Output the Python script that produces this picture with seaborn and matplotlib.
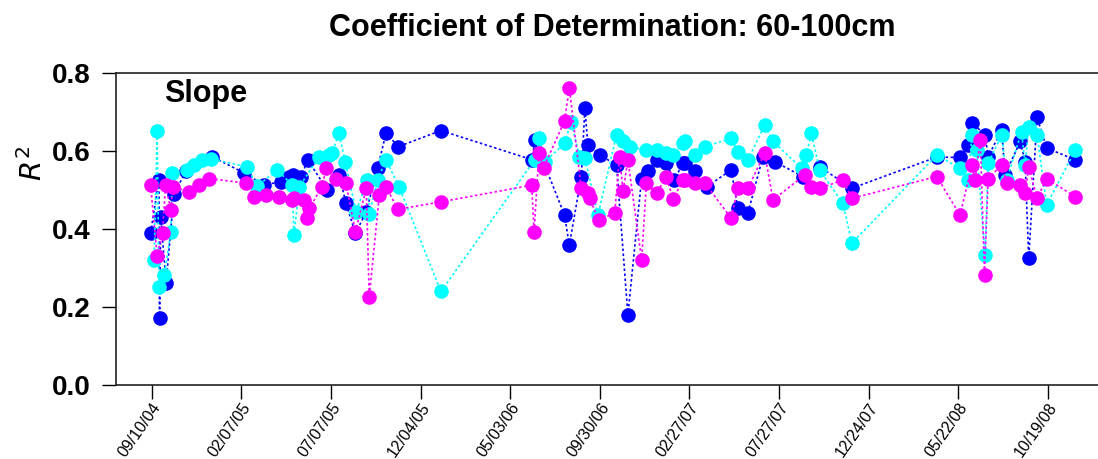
import numpy as np
import pandas as pd
import matplotlib
matplotlib.use("Agg")
import matplotlib.pyplot as plt
import matplotlib.dates as mdates
import seaborn as sns

# ---- data (days after 2004-09-10, R^2 values) ----
start_date = "2004-09-10"

blue_days = [-2, 12, 13, 15, 24, 37, 57, 101, 155, 188, 216, 230, 236, 250, 261, 294, 314, 325, 341, 359,
             378, 392, 413, 484, 637, 641, 691, 699, 719, 725, 730, 750, 778, 797, 820, 831, 845, 861, 875, 889,
             892, 909, 929, 970, 981, 998, 1023, 1043, 1090, 1118, 1172, 1314, 1353, 1367, 1373, 1395, 1400,
             1423, 1428, 1454, 1462, 1468, 1482, 1498, 1546]
blue_r2 = [0.39, 0.526, 0.172, 0.43, 0.262, 0.49, 0.548, 0.586, 0.544, 0.513, 0.522, 0.535, 0.539, 0.535, 0.578,
           0.50, 0.539, 0.466, 0.389, 0.445, 0.556, 0.646, 0.612, 0.653, 0.578, 0.629, 0.436, 0.359, 0.535, 0.71,
           0.616, 0.59, 0.565, 0.18, 0.53, 0.548, 0.578, 0.569, 0.526, 0.57, 0.569, 0.548, 0.509, 0.552, 0.454,
           0.441, 0.586, 0.573, 0.535, 0.56, 0.505, 0.585, 0.584, 0.616, 0.673, 0.642, 0.586, 0.655, 0.539,
           0.625, 0.573, 0.325, 0.687, 0.608, 0.578]

cyan_days = [4, 9, 12, 21, 32, 34, 59, 71, 84, 99, 160, 176, 210, 235, 238, 247, 280, 297, 302, 313, 324, 342,
             361, 364, 378, 392, 414, 484, 641, 649, 658, 691, 702, 716, 725, 747, 778, 789, 800, 828, 845, 861,
             873, 889, 892, 909, 926, 970, 981, 998, 1026, 1040, 1088, 1096, 1104, 1118, 1157, 1172, 1314, 1353,
             1367, 1373, 1381, 1395, 1400, 1423, 1431, 1456, 1462, 1468, 1482, 1498, 1546]
cyan_r2 = [0.321, 0.652, 0.252, 0.282, 0.393, 0.545, 0.552, 0.565, 0.578, 0.58, 0.56, 0.51, 0.552, 0.513, 0.385,
           0.509, 0.586, 0.59, 0.595, 0.646, 0.573, 0.445, 0.526, 0.44, 0.526, 0.578, 0.509, 0.24, 0.578, 0.633,
           0.573, 0.62, 0.676, 0.586, 0.583, 0.436, 0.642, 0.625, 0.612, 0.603, 0.603, 0.595, 0.59, 0.62, 0.625,
           0.59, 0.612, 0.633, 0.599, 0.578, 0.667, 0.625, 0.556, 0.59, 0.646, 0.552, 0.466, 0.364, 0.59, 0.556,
           0.526, 0.642, 0.603, 0.334, 0.569, 0.642, 0.526, 0.65, 0.565, 0.663, 0.642, 0.462, 0.603]

magenta_days = [-2, 9, 18, 23, 32, 35, 63, 79, 96, 158, 171, 191, 213, 235, 238, 255, 260, 264, 285, 292, 308,
                325, 341, 359, 364, 381, 392, 412, 484, 636, 640, 648, 656, 691, 699, 719, 730, 733, 748, 775, 783,
                789, 797, 820, 828, 845, 861, 873, 889, 892, 909, 926, 970, 981, 998, 1026, 1040, 1093, 1104,
                1118, 1157, 1172, 1314, 1353, 1373, 1378, 1387, 1394, 1400, 1423, 1431, 1454, 1462, 1468, 1482,
                1498, 1546]
magenta_r2 = [0.513, 0.33, 0.39, 0.513, 0.449, 0.509, 0.496, 0.513, 0.53, 0.518, 0.483, 0.488, 0.482, 0.475, 0.48,
              0.475, 0.429, 0.454, 0.509, 0.556, 0.53, 0.518, 0.393, 0.505, 0.227, 0.488, 0.509, 0.451, 0.47,
              0.513, 0.393, 0.595, 0.558, 0.678, 0.762, 0.505, 0.492, 0.479, 0.424, 0.441, 0.586, 0.498, 0.578,
              0.321, 0.518, 0.492, 0.535, 0.477, 0.526, 0.526, 0.518, 0.518, 0.428, 0.505, 0.505, 0.595, 0.475,
              0.539, 0.509, 0.505, 0.526, 0.479, 0.535, 0.436, 0.565, 0.526, 0.629, 0.282, 0.53, 0.565, 0.518,
              0.513, 0.492, 0.56, 0.479, 0.53, 0.483]

series_names = ["blue", "cyan", "magenta"]
series_colors = ["#0000FF", "#00FFFF", "#FF00FF"]
tick_labels = ["09/10/04", "02/07/05", "07/07/05", "12/04/05", "05/03/06", "09/30/06",
               "02/27/07", "07/27/07", "12/24/07", "05/22/08", "10/19/08"]
y_ticks = [0.0, 0.2, 0.4, 0.6, 0.8]

# ---- build frame ----
t0 = pd.Timestamp(start_date)
frames = []
for name, d, v in [("blue", blue_days, blue_r2), ("cyan", cyan_days, cyan_r2),
                   ("magenta", magenta_days, magenta_r2)]:
    frames.append(pd.DataFrame({"date": t0 + pd.to_timedelta(d, unit="D"), "r2": v, "series": name}))
df = pd.concat(frames, ignore_index=True)

sns.set_style("white")
plt.rcParams["font.family"] = ["Liberation Sans", "DejaVu Sans"]
plt.rcParams["text.color"] = "black"
plt.rcParams["axes.labelcolor"] = "black"
plt.rcParams["xtick.color"] = "black"
plt.rcParams["ytick.color"] = "black"

fig = plt.figure(figsize=(10.98, 4.59), dpi=100)
ax = fig.add_axes([0.1056, 0.1612, 0.8944, 0.6791])

for name, col in zip(series_names, series_colors):
    sub = df[df["series"] == name]
    sns.lineplot(data=sub, x="date", y="r2", ax=ax, color=col, estimator=None, sort=False,
                 linestyle=(0, (1.5, 1.5)), linewidth=1.2, marker="o", markersize=10.5,
                 markeredgewidth=0, markerfacecolor=col, legend=False)

ax.set_xlim(t0 - pd.Timedelta(days=60), t0 + pd.Timedelta(days=1584))
ax.set_ylim(0, 0.8)
ax.set_yticks(y_ticks)
ax.set_yticklabels([f"{t:.1f}" for t in y_ticks], fontsize=20, fontweight="bold", color="black")
xt = pd.to_datetime(tick_labels, format="%m/%d/%y")
ax.set_xticks(xt)
ax.set_xticklabels(tick_labels, rotation=55, ha="right", rotation_mode="anchor", fontsize=11.5, color="black")
ax.tick_params(axis="both", direction="out", length=10, width=1, color="black", left=True, bottom=True)
ax.tick_params(axis="y", pad=8)
ax.tick_params(axis="x", pad=1)
ax.set_xlabel("")
ax.set_ylabel("")
for s in ["left", "bottom", "top"]:
    ax.spines[s].set_color("#222222")
    ax.spines[s].set_linewidth(1.2)
ax.spines["right"].set_visible(False)

ax.text(0.049, 0.935, "Slope", transform=ax.transAxes, fontsize=22, fontweight="bold", va="center", ha="left")
fig.text(0.558, 0.938, "Coefficient of Determination: 60-100cm", fontsize=22, fontweight="bold",
         ha="center", va="center")
fig.text(0.03, 0.645, r"$R^2$", fontsize=21, rotation=90, ha="center", va="center")

fig.savefig("out.png", dpi=100)
